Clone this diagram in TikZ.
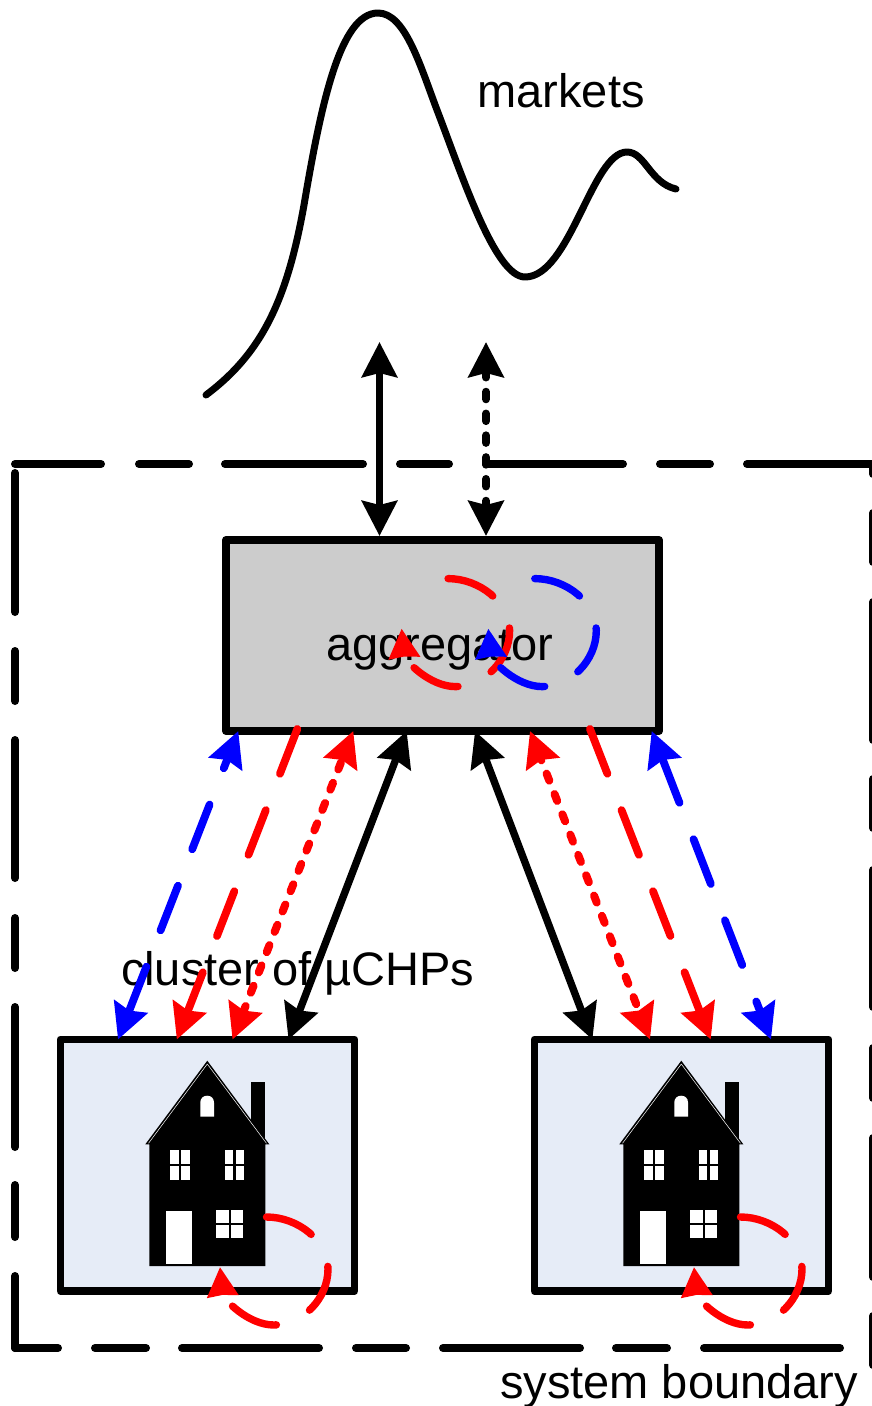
\documentclass[tikz,border=0pt]{standalone}
\usepackage{fontspec}
\setmainfont{Liberation Sans}
\usetikzlibrary{arrows.meta}
\definecolor{aggfill}{HTML}{CCCCCC}
\definecolor{housefill}{HTML}{E6ECF7}
\tikzset{
  txt/.style={anchor=base west,inner sep=0pt,outer sep=0pt,font=\fontsize{47pt}{50pt}\selectfont},
  box/.style={draw=black,line width=7.8pt,line join=round,inner sep=0pt,outer sep=0pt},
  conn/.style={line width=7.4pt,line cap=round},
  longdash/.style={line width=7.8pt,dash pattern=on 48pt off 39pt},
  shortdash/.style={line width=8pt,dash pattern=on 7.5pt off 14.3pt},
  boundary/.style={line width=8pt,line cap=round},
  >={Stealth[length=35pt,width=35pt,inset=4pt]}
}
\newcommand{\loopmark}[3]{%
  \draw[conn,#3,dash pattern=on 49pt off 37pt,shift={(#1,#2)},-{Stealth[length=29pt,width=30pt,inset=1pt]}]
    (-3.5,-54) .. controls (28,-54) and (58,-30) .. (58,-2)
    .. controls (58,28) and (32,54) .. (4,54)
    .. controls (-22,54) and (-47,28) .. (-50,-4);}
\newcommand{\housemark}[1]{%
  \begin{scope}[shift={(#1,0)}]
    \fill[black] (251,1081.7) rectangle (265.3,1150);
    \fill[black,line join=round] (207.3,1060.7) -- (269.3,1144.3) -- (265.3,1144.3) -- (265.3,1266) -- (149.3,1266) -- (149.3,1144.3) -- (145.3,1144.3) -- cycle;
    \draw[white,line width=0.5pt] (207.3,1064) -- (148.5,1143.3);
    \draw[white,line width=0.5pt] (207.3,1064) -- (266.5,1143.3);
    \fill[white] (200.3,1116.7) -- (200.3,1102.5) .. controls (200.3,1098) and (203.5,1095.7) .. (207.2,1095.7) .. controls (210.9,1095.7) and (214,1098) .. (214,1102.5) -- (214,1116.7) -- cycle;
    \fill[white] (170.3,1150.3) rectangle (189.7,1180);
    \fill[white] (225,1150.3) rectangle (244,1180);
    \fill[white] (165.7,1211) rectangle (192,1264);
    \fill[white] (216.3,1210) rectangle (242.7,1237.7);
    \draw[black,line width=2.6pt] (180,1150) -- (180,1180) (170,1165) -- (190,1165);
    \draw[black,line width=2.6pt] (234.5,1150) -- (234.5,1180) (225,1165) -- (244,1165);
    \draw[black,line width=2.6pt] (230,1210) -- (230,1238) (216,1224) -- (243,1224);
  \end{scope}}
\begin{document}
\begin{tikzpicture}[x=1pt,y=-1pt]
\useasboundingbox (0,0) rectangle (872,1406);
% boundary
\foreach \a/\b in {15/101,139/189,225/363,400/449,486/623,660/710,747/880}
  \draw[boundary] (\a,464) -- (\b,464);
\foreach \a/\b in {473/612,651/701,740/878,918/968,1007/1147,1185/1237,1276/1348}
  \draw[boundary] (15,\a) -- (15,\b);
\foreach \a/\b in {464/474,513/562,602/740,779/828,870/1007,1048/1098,1138/1277,1316/1365}
  \draw[boundary] (873,\a) -- (873,\b);
\foreach \a/\b in {15/58,95/146,182/319,356/406,443/580,616/667,704/840}
  \draw[boundary] (\a,1348) -- (\b,1348);
% market curve
\draw[line width=7pt,line cap=round,line join=round]
  (206,395) .. controls (262,353) and (287,300) .. (304,205)
  .. controls (321,105) and (340,13) .. (378,13)
  .. controls (405,13) and (420,65) .. (437,110)
  .. controls (462,175) and (495,277) .. (525,277)
  .. controls (570,277) and (592,152) .. (627,152)
  .. controls (645,152) and (650,183) .. (676,189);
% boxes
\node[box,fill=aggfill,minimum width=433pt,minimum height=191pt] (agg) at (442.5,635.5) {};
\node[box,fill=housefill,minimum width=294pt,minimum height=251.5pt] (h1) at (207.5,1165.25) {};
\node[box,fill=housefill,minimum width=294pt,minimum height=251.5pt] (h2) at (681.5,1165.25) {};
\housemark{0}
\housemark{474}
% labels
\node[txt] (lmarkets) at (477.5,107) {markets};
\node[txt] (lagg) at (326,660.5) {aggregator};
\node[txt] (lcluster) at (121,985) {cluster of µCHPs};
\node[txt] (lsys) at (500,1398) {system boundary};
% market connectors
\coordinate (m1) at (379.5,342);
\coordinate (m2) at (486,342);
\draw[conn,<->] (m1) -- ([xshift=153.5pt,yshift=4pt]agg.north west);
\draw[conn,<->,shortdash,dash phase=1pt] (m2) -- ([xshift=260pt,yshift=4pt]agg.north west);
% left cluster connectors
\draw[conn,blue,<->,longdash,dash phase=37pt] ([xshift=12.3pt]agg.south west) -- ([xshift=57.5pt]h1.north west);
\draw[conn,red,->,longdash] ([xshift=71.3pt,yshift=2pt]agg.south west) -- ([xshift=116.3pt]h1.north west);
\draw[conn,red,<->,shortdash,dash phase=17pt] ([xshift=127.3pt]agg.south west) -- ([xshift=172pt]h1.north west);
\draw[conn,<->] ([xshift=180.7pt]agg.south west) -- ([xshift=228pt]h1.north west);
% right cluster connectors
\draw[conn,<->] ([xshift=249pt]agg.south west) -- ([xshift=57.9pt]h2.north west);
\draw[conn,red,<->,shortdash,dash phase=5pt] ([xshift=304pt]agg.south west) -- ([xshift=115.5pt]h2.north west);
\draw[conn,red,->,longdash] ([xshift=364pt,yshift=2pt]agg.south west) -- ([xshift=176.2pt]h2.north west);
\draw[conn,blue,<->,longdash] ([xshift=425.7pt]agg.south west) -- ([xshift=236.5pt]h2.north west);
% loops
\loopmark{451.6}{632.6}{red}
\loopmark{538.3}{632.6}{blue}
\loopmark{270}{1271}{red}
\loopmark{744}{1271}{red}
\end{tikzpicture}
\end{document}
